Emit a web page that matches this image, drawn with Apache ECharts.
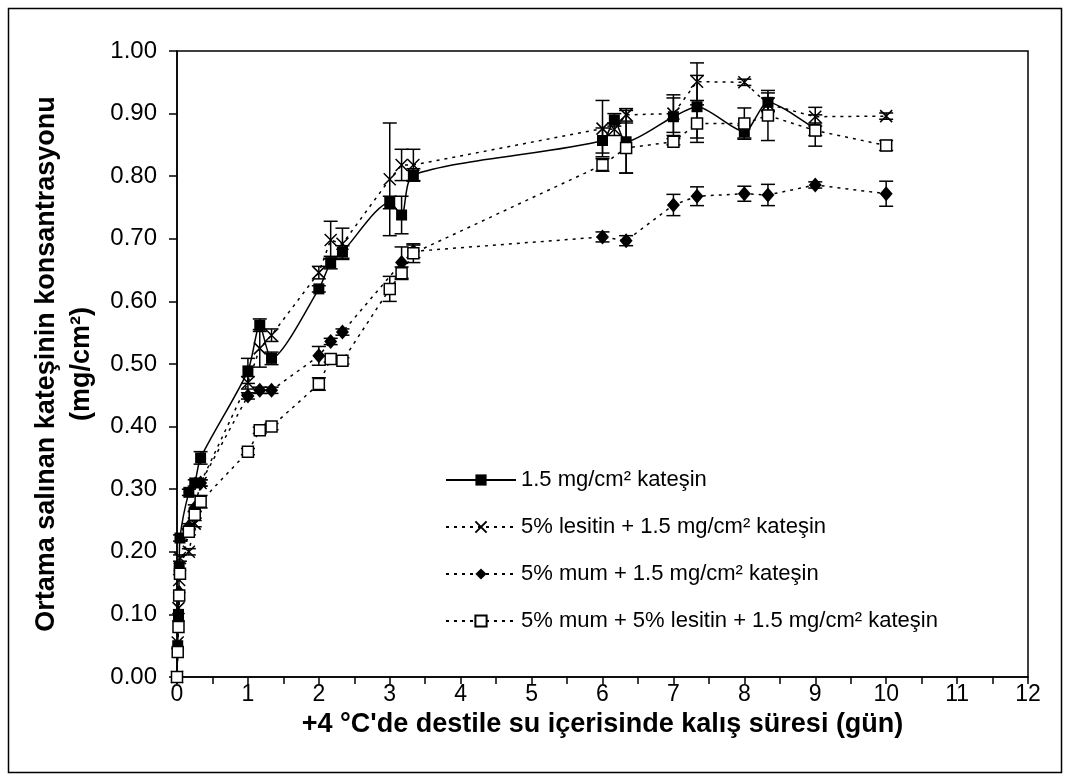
<!DOCTYPE html>
<html>
<head>
<meta charset="utf-8">
<script src="https://cdn.jsdelivr.net/npm/echarts@6/dist/echarts.min.js"></script>
<style>
  html, body { margin: 0; padding: 0; background: #fff; }
  #chart { width: 1070px; height: 781px; }
</style>
</head>
<body>
<div id="chart"></div>
<script>
// sampling times (days)
const days = [0, 0.01, 0.021, 0.031, 0.042, 0.167, 0.25, 0.333, 1, 1.167, 1.333, 2, 2.167, 2.333,
  3, 3.167, 3.333, 6, 6.167, 6.333, 7, 7.333, 8, 8.333, 9, 10]

const names = [
  '1.5 mg/cm² kateşin',
  '5% lesitin + 1.5 mg/cm² kateşin',
  '5% mum + 1.5 mg/cm² kateşin',
  '5% mum + 5% lesitin + 1.5 mg/cm² kateşin',
]

// mean concentration (mg/cm2)
const katesin   = [0, 0.05, 0.10, 0.175, 0.222, 0.295, 0.31, 0.35, 0.489, 0.562, 0.509, 0.62, 0.662, 0.679,
  0.758, 0.738, 0.802, 0.857, 0.89, 0.855, 0.895, 0.911, 0.871, 0.918, 0.875, null]
const lesitin   = [0, 0.055, 0.11, 0.155, 0.19, 0.20, 0.245, 0.31, 0.47, 0.525, 0.546, 0.646, 0.698, 0.692,
  0.795, 0.818, 0.818, 0.876, 0.875, 0.898, 0.90, 0.951, 0.95, 0.915, 0.895, 0.896]
const mum       = [0, 0.045, 0.09, 0.135, 0.17, 0.24, 0.27, 0.31, 0.449, 0.458, 0.458, 0.513, 0.536, 0.551,
  null, 0.662, 0.68, 0.703, null, 0.697, 0.754, 0.768, 0.772, 0.77, 0.786, 0.772]
const mumLesitin = [0, 0.04, 0.08, 0.13, 0.165, 0.232, 0.259, 0.28, 0.36, 0.394, 0.40, 0.468, 0.508, 0.505,
  0.62, 0.645, 0.677, 0.818, null, 0.845, 0.855, 0.884, 0.884, 0.897, 0.873, 0.849]

// +/- error
const errKatesin = [0, 0, 0, 0, 0.005, 0.005, 0.005, 0.01, 0.02, 0.01, 0.01, 0.005, 0.01, 0.01,
  0.01, 0.03, 0.01, 0.02, 0.01, 0.05, 0.03, 0.05, 0.01, 0.015, 0.01, null]
const errLesitin = [0, 0, 0, 0, 0.005, 0.005, 0.005, 0.005, 0.01, 0.03, 0.01, 0.01, 0.03, 0.025,
  0.09, 0.025, 0.025, 0.045, 0.01, 0.01, 0.03, 0.03, 0.005, 0.01, 0.015, 0.005]
const errMum = [0, 0, 0, 0, 0, 0.005, 0.005, 0.005, 0.005, 0.005, 0.005, 0.015, 0.005, 0.005,
  null, 0.025, 0.01, 0.008, null, 0.008, 0.017, 0.015, 0.012, 0.017, 0.005, 0.02]
const errMumLesitin = [0, 0, 0, 0, 0, 0.005, 0.005, 0.01, 0.005, 0.005, 0.005, 0.01, 0.005, 0.005,
  0.02, 0.01, 0.015, 0.01, null, 0.04, 0.005, 0.03, 0.025, 0.04, 0.025, 0.008]

const xTicks = [0, 1, 2, 3, 4, 5, 6, 7, 8, 9, 10, 11, 12]

const FONT = '"Liberation Sans", Arial, sans-serif'
const pts = vals => days.map((d, i) => vals[i] == null ? null : [d, vals[i]]).filter(Boolean)
const errPts = (vals, errs) => days
  .map((d, i) => (vals[i] == null || !errs[i]) ? null : [d, vals[i], errs[i]])
  .filter(Boolean)

function errRender(params, api) {
  const x = api.value(0), y = api.value(1), e = api.value(2)
  const hi = api.coord([x, y + e]), lo = api.coord([x, y - e])
  const w = 7
  const style = { stroke: '#000', lineWidth: 1.5 }
  return {
    type: 'group',
    children: [
      { type: 'line', shape: { x1: hi[0], y1: hi[1], x2: lo[0], y2: lo[1] }, style },
      { type: 'line', shape: { x1: hi[0] - w, y1: hi[1], x2: hi[0] + w, y2: hi[1] }, style },
      { type: 'line', shape: { x1: lo[0] - w, y1: lo[1], x2: lo[0] + w, y2: lo[1] }, style },
    ],
  }
}

const dash = [3, 5]
const X_PATH = 'path://M0,0L10,10M10,0L0,10'

const chart = echarts.init(document.getElementById('chart'), null, { renderer: 'canvas' })
chart.setOption({
  animation: false,
  backgroundColor: '#fff',
  textStyle: { fontFamily: FONT, color: '#000' },
  graphic: [{
    type: 'rect',
    shape: { x: 8.5, y: 8.5, width: 1053, height: 764 },
    style: { fill: 'none', stroke: '#000', lineWidth: 1.5 },
  }],
  grid: {
    left: 177, right: 42, top: 51, bottom: 104,
    outerBoundsMode: 'none',
    show: true, borderColor: '#000', borderWidth: 1.5, backgroundColor: 'transparent',
  },
  legend: {
    orient: 'vertical',
    left: 440, top: 464,
    itemWidth: 70, itemHeight: 14, itemGap: 25,
    data: names,
    textStyle: { fontFamily: FONT, fontSize: 22, color: '#000' },
  },
  xAxis: {
    type: 'value', min: 0, max: 12, interval: 0.5,
    name: '+4 °C\'de destile su içerisinde kalış süresi (gün)',
    nameLocation: 'middle', nameGap: 31,
    nameTextStyle: { fontFamily: FONT, fontSize: 27, fontWeight: 'bold', color: '#000' },
    axisLine: { lineStyle: { color: '#000', width: 1.5 } },
    axisTick: { show: true, length: 7, lineStyle: { color: '#000', width: 1.5 } },
    axisLabel: {
      fontFamily: FONT, fontSize: 23, color: '#000', margin: 6,
      formatter: v => xTicks.includes(v) ? String(v) : '',
    },
    splitLine: { show: false },
  },
  yAxis: {
    type: 'value', min: 0, max: 1, interval: 0.1,
    name: 'Ortama salınan kateşinin konsantrasyonu\n(mg/cm²)',
    nameLocation: 'middle', nameGap: 76, nameRotate: 90,
    nameTextStyle: { fontFamily: FONT, fontSize: 27, fontWeight: 'bold', color: '#000', lineHeight: 35 },
    axisLine: { lineStyle: { color: '#000', width: 1.5 } },
    axisTick: { show: true, length: 8, lineStyle: { color: '#000', width: 1.5 } },
    axisLabel: { fontFamily: FONT, fontSize: 24, color: '#000', margin: 20, formatter: v => v.toFixed(2) },
    splitLine: { show: false },
  },
  series: [
    { type: 'custom', renderItem: errRender, data: errPts(katesin, errKatesin), z: 1, silent: true },
    { type: 'custom', renderItem: errRender, data: errPts(lesitin, errLesitin), z: 1, silent: true },
    { type: 'custom', renderItem: errRender, data: errPts(mum, errMum), z: 1, silent: true },
    { type: 'custom', renderItem: errRender, data: errPts(mumLesitin, errMumLesitin), z: 1, silent: true },
    {
      name: names[0], type: 'line', data: pts(katesin), smooth: 0.25, z: 3,
      symbol: 'rect', symbolSize: 11, showAllSymbol: true,
      lineStyle: { color: '#000', width: 1.5 },
      itemStyle: { color: '#000', borderColor: '#000', borderWidth: 0 },
    },
    {
      name: names[1], type: 'line', data: pts(lesitin), z: 3,
      symbol: X_PATH, symbolSize: 12, showAllSymbol: true,
      lineStyle: { color: '#000', width: 1.5, type: dash },
      itemStyle: { color: 'none', borderColor: '#000', borderWidth: 1.5 },
    },
    {
      name: names[2], type: 'line', data: pts(mum), z: 3,
      symbol: 'diamond', symbolSize: [13, 15], showAllSymbol: true,
      lineStyle: { color: '#000', width: 1.5, type: dash },
      itemStyle: { color: '#000', borderColor: '#000', borderWidth: 0 },
    },
    {
      name: names[3], type: 'line', data: pts(mumLesitin), z: 3,
      symbol: 'rect', symbolSize: 11, showAllSymbol: true,
      lineStyle: { color: '#000', width: 1.5, type: dash },
      itemStyle: { color: '#fff', borderColor: '#000', borderWidth: 1.5 },
    },
  ],
})
</script>
</body>
</html>
